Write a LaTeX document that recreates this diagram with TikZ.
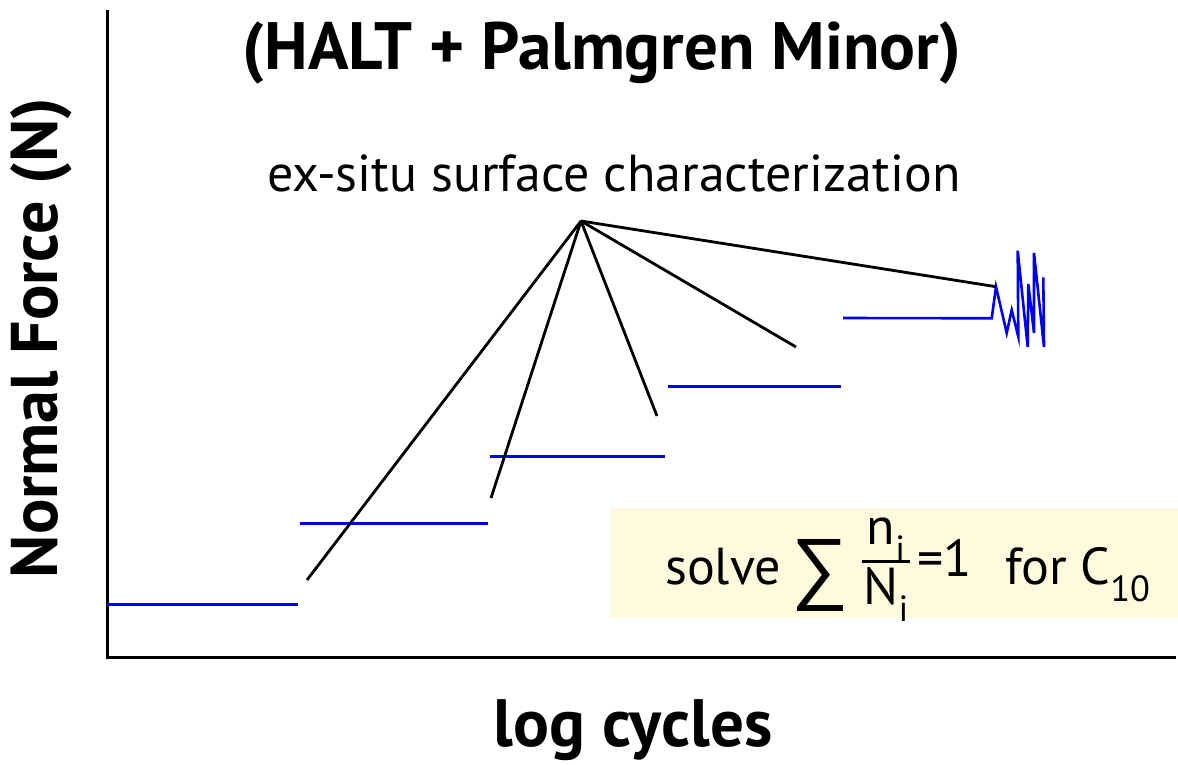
\documentclass[tikz,border=0pt]{standalone}
\usepackage{amsmath}
\usepackage{fontspec}
\setmainfont{PT Sans}
\newfontfamily\symfont{Liberation Sans}
\definecolor{boxyellow}{RGB}{255,249,222}
\definecolor{stepblue}{RGB}{0,0,240}
\newlength\solvewd
\begin{document}
\begin{tikzpicture}[x=1pt,y=-1pt,
  axis/.style={line width=3pt},
  stepline/.style={stepblue,line width=3pt},
  leader/.style={black,line width=2.8pt},
  bigtitle/.style={font=\fontsize{67}{70}\selectfont\bfseries},
  axislabel/.style={font=\fontsize{66}{70}\selectfont\bfseries},
  note/.style={font=\fontsize{52}{56}\selectfont}]
\useasboundingbox (0,0) rectangle (1178,765);
% formula box
\node[fill=boxyellow,draw=none,minimum width=568pt,minimum height=110pt,inner sep=0pt,anchor=north west] (box) at (610,508) {};
\node[font=\fontsize{52}{56}\selectfont,anchor=base west,inner sep=0pt] (formula) at (665,584)
  {\settowidth\solvewd{solve}solve\hspace{\dimexpr130pt-\solvewd\relax}%
   \makebox[50pt][c]{\raisebox{-10pt}{\symfont\fontsize{80}{82}\selectfont ∑}}\hspace{17pt}%
   \makebox[48pt][c]{\raisebox{40pt}{n$_{\text{i}}$}}\hspace{-48pt}%
   \rule[21pt]{48pt}{2.6pt}\hspace{-48pt}%
   \makebox[48pt][c]{\raisebox{-20pt}{N$_{\text{i}}$}}\hspace{7pt}%
   \makebox[88pt][l]{\raisebox{8pt}{=1}}%
   for C$_{\text{10}}$};
% axes
\coordinate (ytop) at (107,10);
\coordinate (orig) at (107,657);
\coordinate (xend) at (1176,657);
\draw[axis] (ytop) -- (orig) -- (xend);
% steps
\coordinate (s1a) at (107,604); \coordinate (s1b) at (298,604);
\coordinate (s2a) at (300,523); \coordinate (s2b) at (488,523);
\coordinate (s3a) at (490,456); \coordinate (s3b) at (665,456);
\coordinate (s4a) at (668,386); \coordinate (s4b) at (841,386);
\coordinate (s5a) at (843,318); \coordinate (s5b) at (991.7,318.3);
\draw[stepline] (s1a) -- (s1b);
\draw[stepline] (s2a) -- (s2b);
\draw[stepline] (s3a) -- (s3b);
\draw[stepline] (s4a) -- (s4b);
\coordinate (peak) at (996,286.7);
\draw[stepline,line width=2.6pt,line join=miter] (s5a) -- (s5b) -- (peak) -- (1006.7,333) -- (1011.7,310) -- (1018.3,336.7)
  -- (1017.7,250.7) -- (1027.7,347) -- (1028.3,284) -- (1034,333) -- (1034,253) -- (1044,347) -- (1043.3,277.3);
% leaders
\coordinate (apex) at (581,221);
\coordinate (e1) at (307,580);
\coordinate (e2) at (491,498);
\coordinate (e3) at (657,416);
\coordinate (e4) at (796,347);
\draw[leader] (apex) -- (e1);
\draw[leader] (apex) -- (e2);
\draw[leader] (apex) -- (e3);
\draw[leader] (apex) -- (e4);
\draw[leader] (apex) -- (peak);
% texts
\node[bigtitle] (title) at (602,53) {(HALT + Palmgren Minor)};
\node[note] (exsitu) at (614,173) {ex-situ surface characterization};
\node[axislabel,rotate=90] (ylab) at (41,338) {Normal Force (N)};
\node[axislabel,font=\fontsize{67}{70}\selectfont\bfseries] (xlab) at (633,730) {log cycles};
\end{tikzpicture}
\end{document}
